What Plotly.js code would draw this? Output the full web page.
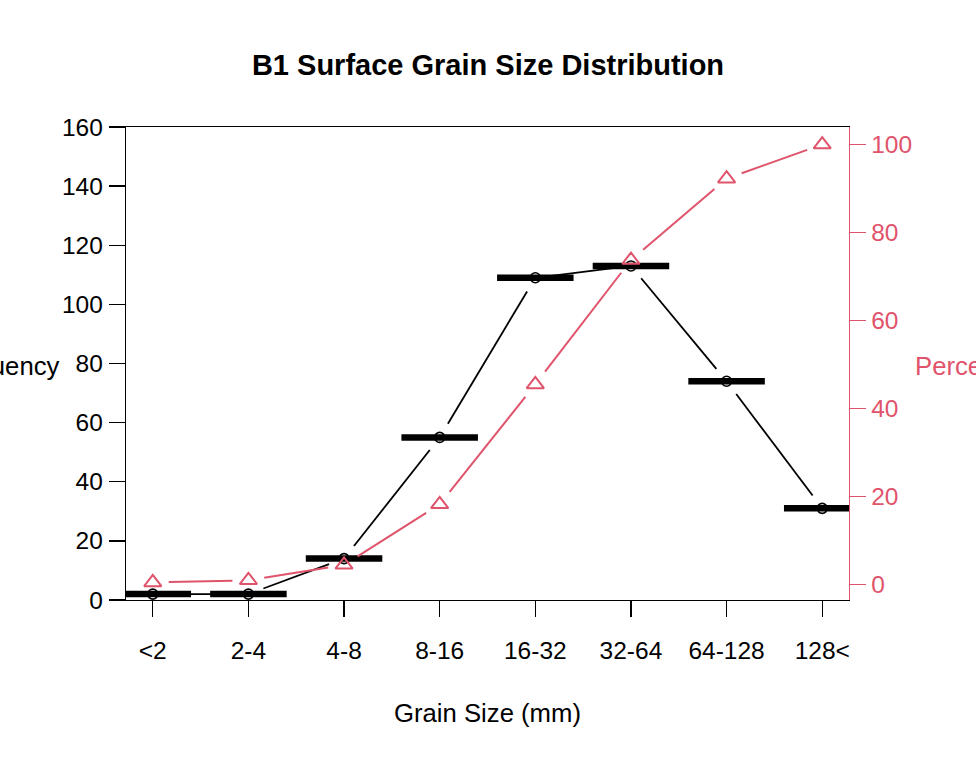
<!DOCTYPE html>
<html>
<head>
<meta charset="utf-8">
<script src="https://cdn.plot.ly/plotly-3.0.1.min.js"></script>
<style>html,body{margin:0;padding:0;background:#fff;}#chart{width:976px;height:759px;}</style>
</head>
<body>
<div id="chart"></div>
<script>
// ---- data ----
const categories = ["<2", "2-4", "4-8", "8-16", "16-32", "32-64", "64-128", "128<"];
const frequency = [2, 2, 14, 55, 109, 113, 74, 31];
const percent = [0.5, 1, 4.5, 18.25, 45.5, 73.75, 92.25, 100];
const leftTicks = [0, 20, 40, 60, 80, 100, 120, 140, 160];
const rightTicks = [0, 20, 40, 60, 80, 100];

// ---- geometry ----
const W = 976, H = 759;
const M = {l: 126, r: 127, t: 127, b: 159};
const PW = W - M.l - M.r, PH = H - M.t - M.b;
const xRange = [-0.28, categories.length - 1 + 0.28];
const yRange = [0, 160];
const y2Range = [-3.48, 103.98];
const RED = "#DF536B";
const FONT = "Liberation Sans, Arial, sans-serif";
const TICK_SIZE = 24.5, LAB_SIZE = 25.7;

const xIdx = categories.map((c, i) => i);

// gapped connecting segments (like R type="b")
function gapped(xs, ys, yr, gap) {
  const sx = PW / (xRange[1] - xRange[0]);
  const sy = PH / (yr[1] - yr[0]);
  const ox = [], oy = [];
  for (let i = 0; i < xs.length - 1; i++) {
    const x1 = xs[i] * sx, y1 = ys[i] * sy, x2 = xs[i+1] * sx, y2 = ys[i+1] * sy;
    const dx = x2 - x1, dy = y2 - y1, L = Math.hypot(dx, dy);
    if (L <= 2 * gap) continue;
    const ux = dx / L, uy = dy / L;
    ox.push((x1 + ux * gap) / sx, (x2 - ux * gap) / sx, null);
    oy.push((y1 + uy * gap) / sy, (y2 - uy * gap) / sy, null);
  }
  return {x: ox, y: oy};
}

// thick horizontal bars
const barX = [], barY = [];
xIdx.forEach((x, i) => { barX.push(x - 0.4, x + 0.4, null); barY.push(frequency[i], frequency[i], null); });

const gBlack = gapped(xIdx, frequency, yRange, 16);
const gRed = gapped(xIdx, percent, y2Range, 16);

const traces = [
  {x: barX, y: barY, mode: "lines", line: {color: "#000", width: 6.5}, hoverinfo: "skip", showlegend: false},
  {x: gBlack.x, y: gBlack.y, mode: "lines", line: {color: "#000", width: 1.8}, showlegend: false},
  {x: xIdx, y: frequency, mode: "markers", marker: {symbol: "circle-open", size: 10, color: "#000", line: {width: 1.6, color: "#000"}}, showlegend: false},
  {x: gRed.x, y: gRed.y, mode: "lines", yaxis: "y2", line: {color: RED, width: 2}, showlegend: false},
  {x: xIdx, y: percent, mode: "markers", yaxis: "y2", marker: {symbol: "triangle-up-open", size: 15, color: RED, line: {width: 2, color: RED}}, showlegend: false}
];

const layout = {
  width: W, height: H,
  margin: M,
  paper_bgcolor: "#fff", plot_bgcolor: "#fff",
  showlegend: false,
  font: {family: FONT, size: TICK_SIZE, color: "#000"},
  title: {text: "B1 Surface Grain Size Distribution", x: 0.5, xanchor: "center", xref: "container",
          y: 1 - 65 / H, yanchor: "middle", font: {family: FONT, size: 29, weight: "bold", color: "#000"}},
  xaxis: {range: xRange, tickmode: "array", tickvals: xIdx, ticktext: categories,
          showgrid: false, zeroline: false, showline: true, linecolor: "#000", linewidth: 1.3, mirror: true,
          ticks: "outside", ticklen: 16, tickwidth: 1.3, tickcolor: "#000", ticklabelstandoff: 12,
          tickfont: {family: FONT, size: TICK_SIZE, color: "#000"}},
  yaxis: {range: yRange, tickmode: "array", tickvals: leftTicks, ticktext: leftTicks.map(String),
          showgrid: false, zeroline: false, showline: true, linecolor: "#000", linewidth: 1.3,
          ticks: "outside", ticklen: 16, tickwidth: 1.3, tickcolor: "#000", ticklabelstandoff: 1,
          tickfont: {family: FONT, size: TICK_SIZE, color: "#000"}},
  yaxis2: {range: y2Range, overlaying: "y", side: "right", tickmode: "array", tickvals: rightTicks, ticktext: rightTicks.map(String),
          showgrid: false, zeroline: false, showline: true, linecolor: RED, linewidth: 1.3,
          ticks: "outside", ticklen: 16, tickwidth: 1.3, tickcolor: RED, ticklabelstandoff: 0,
          tickfont: {family: FONT, size: TICK_SIZE, color: RED}},
  annotations: [
    {text: "Frequency", xref: "paper", yref: "paper", x: (62 - M.l) / PW, y: (600 - 366) / PH,
     xanchor: "right", yanchor: "middle", showarrow: false, font: {family: FONT, size: LAB_SIZE, color: "#000"}},
    {text: "Percent", xref: "paper", yref: "paper", x: (913 - M.l) / PW, y: (600 - 366) / PH,
     xanchor: "left", yanchor: "middle", showarrow: false, font: {family: FONT, size: LAB_SIZE, color: RED}},
    {text: "Grain Size (mm)", xref: "paper", yref: "paper", x: 0.5, y: (600 - 713) / PH,
     xanchor: "center", yanchor: "middle", showarrow: false, font: {family: FONT, size: LAB_SIZE, color: "#000"}}
  ]
};

Plotly.newPlot("chart", traces, layout, {staticPlot: true, displayModeBar: false});
</script>
</body>
</html>
